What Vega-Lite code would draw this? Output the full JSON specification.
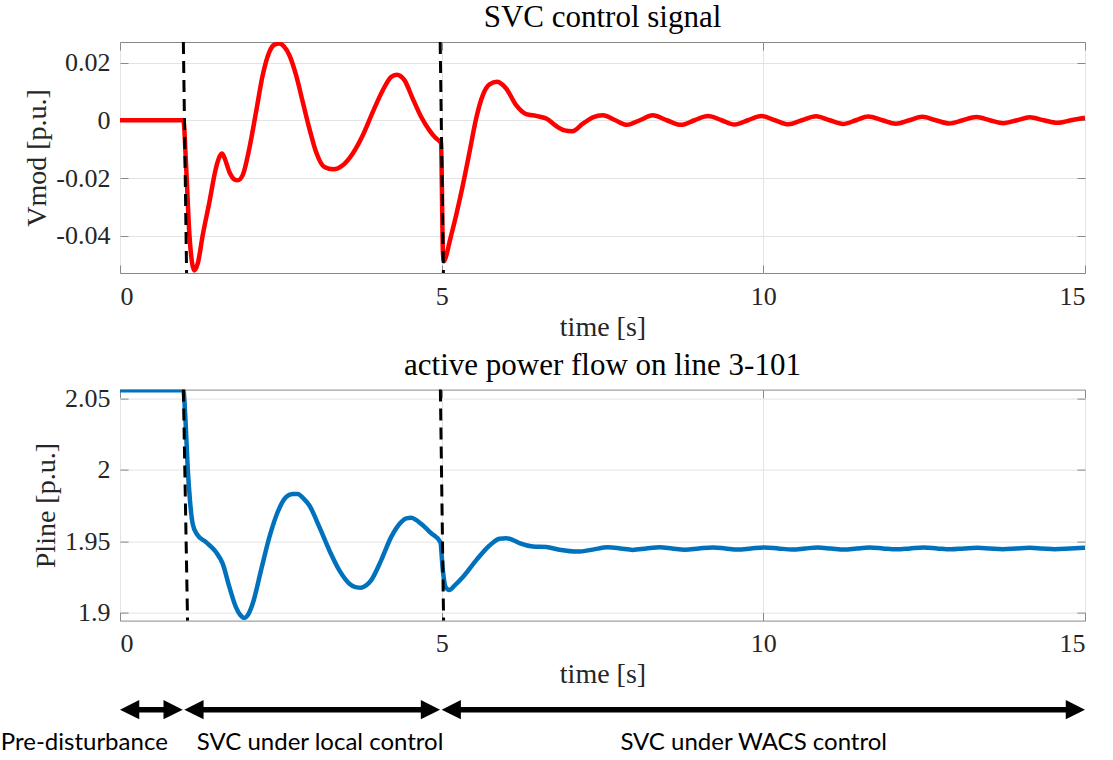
{
  "$schema": "https://vega.github.io/schema/vega-lite/v6.json",
  "padding": {"left": 0, "top": 1, "right": 5, "bottom": 0},
  "spacing": 6.6,
  "background": "white",
  "datasets": {
    "vmod": [
      {"t":0,"v":0},{"t":0.5,"v":0},{"t":0.985,"v":0},{"t":1.03,"v":-0.017},{"t":1.08,"v":-0.040},{"t":1.155,"v":-0.052},{"t":1.21,"v":-0.0495},{"t":1.285,"v":-0.0399},{"t":1.39,"v":-0.0283},{"t":1.49,"v":-0.0167},{"t":1.55,"v":-0.0125},{"t":1.586,"v":-0.0115},{"t":1.62,"v":-0.0128},{"t":1.70,"v":-0.0179},{"t":1.78,"v":-0.0205},{"t":1.83,"v":-0.0208},{"t":1.907,"v":-0.019},{"t":2.01,"v":-0.0098},{"t":2.115,"v":0.0029},{"t":2.218,"v":0.0156},{"t":2.322,"v":0.0237},{"t":2.40,"v":0.0262},{"t":2.477,"v":0.0266},{"t":2.55,"v":0.0255},{"t":2.633,"v":0.0225},{"t":2.737,"v":0.0156},{"t":2.84,"v":0.0064},{"t":2.944,"v":-0.0029},{"t":3.048,"v":-0.011},{"t":3.177,"v":-0.0162},{"t":3.317,"v":-0.017},{"t":3.462,"v":-0.0156},{"t":3.618,"v":-0.0115},{"t":3.774,"v":-0.0052},{"t":3.93,"v":0.0029},{"t":4.085,"v":0.0104},{"t":4.214,"v":0.015},{"t":4.302,"v":0.0158},{"t":4.421,"v":0.0139},{"t":4.55,"v":0.0075},{"t":4.68,"v":0.0012},{"t":4.81,"v":-0.0035},{"t":4.90,"v":-0.006},{"t":4.975,"v":-0.0075},{"t":4.99,"v":-0.008},{"t":5.02,"v":-0.046},{"t":5.035,"v":-0.0488},{"t":5.07,"v":-0.047},{"t":5.122,"v":-0.0422},{"t":5.225,"v":-0.0329},{"t":5.329,"v":-0.0225},{"t":5.433,"v":-0.011},{"t":5.536,"v":0.0006},{"t":5.64,"v":0.0087},{"t":5.744,"v":0.0124},{"t":5.863,"v":0.0133},{"t":5.93,"v":0.0126},{"t":6.003,"v":0.011},{"t":6.158,"v":0.0052},{"t":6.314,"v":0.0021},{"t":6.47,"v":0.0015},{"t":6.625,"v":0.0006},{"t":6.78,"v":-0.002},{"t":6.91,"v":-0.0035},{"t":7.03,"v":-0.0038},{"t":7.195,"v":-0.0012},{"t":7.35,"v":0.001},{"t":7.506,"v":0.0017},{"t":7.70,"v":0.0},{"t":7.88,"v":-0.0016},{"t":8.08,"v":0.0},{"t":8.28,"v":0.0017},{"t":8.50,"v":0.0},{"t":8.72,"v":-0.0016},{"t":8.93,"v":0.0},{"t":9.14,"v":0.0015},{"t":9.35,"v":0.0},{"t":9.55,"v":-0.0015},{"t":9.76,"v":0.0},{"t":9.97,"v":0.0015},{"t":10.18,"v":0.0},{"t":10.39,"v":-0.0014},{"t":10.60,"v":0.0},{"t":10.82,"v":0.0014},{"t":11.03,"v":0.0},{"t":11.24,"v":-0.0013},{"t":11.44,"v":0.0},{"t":11.63,"v":0.0013},{"t":11.85,"v":0.0},{"t":12.06,"v":-0.0012},{"t":12.27,"v":0.0},{"t":12.47,"v":0.0012},{"t":12.68,"v":0.0},{"t":12.89,"v":-0.0011},{"t":13.10,"v":0.0},{"t":13.31,"v":0.0011},{"t":13.52,"v":0.0},{"t":13.73,"v":-0.001},{"t":13.94,"v":0.0},{"t":14.14,"v":0.001},{"t":14.36,"v":0.0},{"t":14.57,"v":-0.0009},{"t":14.78,"v":0.0},{"t":15.0,"v":0.0009}
    ],
    "pline": [
      {"t":0,"p":2.0555},{"t":0.5,"p":2.0555},{"t":0.985,"p":2.0555},{"t":1.016,"p":2.0365},{"t":1.052,"p":2.0017},{"t":1.088,"p":1.9784},{"t":1.13,"p":1.9622},{"t":1.192,"p":1.9552},{"t":1.337,"p":1.9494},{"t":1.492,"p":1.9425},{"t":1.596,"p":1.9344},{"t":1.70,"p":1.9181},{"t":1.80,"p":1.9042},{"t":1.87,"p":1.8985},{"t":1.933,"p":1.8965},{"t":2.0,"p":1.8995},{"t":2.063,"p":1.9065},{"t":2.192,"p":1.9297},{"t":2.322,"p":1.9529},{"t":2.45,"p":1.9703},{"t":2.58,"p":1.9808},{"t":2.68,"p":1.983},{"t":2.763,"p":1.9831},{"t":2.85,"p":1.98},{"t":2.944,"p":1.975},{"t":3.1,"p":1.9599},{"t":3.255,"p":1.9436},{"t":3.41,"p":1.9297},{"t":3.566,"p":1.9204},{"t":3.66,"p":1.918},{"t":3.747,"p":1.9176},{"t":3.82,"p":1.919},{"t":3.903,"p":1.9227},{"t":4.059,"p":1.9367},{"t":4.214,"p":1.9529},{"t":4.37,"p":1.9634},{"t":4.45,"p":1.966},{"t":4.525,"p":1.9664},{"t":4.60,"p":1.965},{"t":4.68,"p":1.9622},{"t":4.836,"p":1.9557},{"t":4.98,"p":1.9494},{"t":5.018,"p":1.9297},{"t":5.06,"p":1.9181},{"t":5.12,"p":1.916},{"t":5.20,"p":1.919},{"t":5.33,"p":1.925},{"t":5.536,"p":1.9367},{"t":5.744,"p":1.9471},{"t":5.9,"p":1.9518},{"t":6.003,"p":1.9522},{"t":6.10,"p":1.951},{"t":6.21,"p":1.9487},{"t":6.418,"p":1.9464},{"t":6.625,"p":1.946},{"t":6.83,"p":1.9441},{"t":7.117,"p":1.9428},{"t":7.35,"p":1.9442},{"t":7.58,"p":1.9458},{"t":7.78,"p":1.945},{"t":7.97,"p":1.944},{"t":8.18,"p":1.945},{"t":8.39,"p":1.9458},{"t":8.58,"p":1.945},{"t":8.78,"p":1.9441},{"t":9.0,"p":1.945},{"t":9.22,"p":1.9457},{"t":9.41,"p":1.945},{"t":9.60,"p":1.9442},{"t":9.81,"p":1.945},{"t":10.02,"p":1.9457},{"t":10.23,"p":1.945},{"t":10.45,"p":1.9443},{"t":10.65,"p":1.945},{"t":10.84,"p":1.9456},{"t":11.05,"p":1.945},{"t":11.26,"p":1.9443},{"t":11.45,"p":1.945},{"t":11.65,"p":1.9456},{"t":11.86,"p":1.945},{"t":12.07,"p":1.9444},{"t":12.28,"p":1.945},{"t":12.49,"p":1.9456},{"t":12.70,"p":1.945},{"t":12.91,"p":1.9444},{"t":13.12,"p":1.945},{"t":13.33,"p":1.9455},{"t":13.52,"p":1.945},{"t":13.72,"p":1.9445},{"t":13.93,"p":1.945},{"t":14.14,"p":1.9455},{"t":14.33,"p":1.945},{"t":14.53,"p":1.9445},{"t":14.77,"p":1.945},{"t":15.0,"p":1.9455}
    ],
    "dashTop": [
      {"id":1,"t":0.985,"v":0.0271},{"id":1,"t":1.035,"v":-0.0529},
      {"id":2,"t":4.977,"v":0.0271},{"id":2,"t":5.027,"v":-0.0529}
    ],
    "dashBottom": [
      {"id":1,"t":0.985,"p":2.056},{"id":1,"t":1.05,"p":1.8946},
      {"id":2,"t":4.98,"p":2.056},{"id":2,"t":5.03,"p":1.8946}
    ],
    "phases": [
      {"label":"Pre-disturbance","start":0,"end":0.975,"mid":-0.555},
      {"label":"SVC under local control","start":1.0,"end":4.975,"mid":3.11},
      {"label":"SVC under WACS control","start":5.0,"end":15.0,"mid":9.85}
    ]
  },
  "vconcat": [
    {
      "width": 965,
      "height": 231,
      "title": {"text": "SVC control signal"},
      "layer": [
        {
          "data": {"name": "vmod"},
          "mark": {"type": "line", "color": "#ff0000", "strokeWidth": 4.5, "interpolate": "monotone", "strokeJoin": "round", "clip": true},
          "encoding": {
            "x": {"field": "t", "type": "quantitative", "scale": {"domain": [0, 15], "nice": false},
                  "axis": {"values": [0, 5, 10, 15], "title": "time [s]", "grid": true}},
            "y": {"field": "v", "type": "quantitative", "scale": {"domain": [-0.0529, 0.0271], "nice": false, "zero": false},
                  "axis": {"values": [-0.04, -0.02, 0, 0.02], "title": "Vmod [p.u.]", "grid": true,
                           "labelExpr": "datum.value == 0 ? '0' : (datum.value < 0 ? '-' + format(-datum.value, '.2f') : format(datum.value, '.2f'))"}}
          }
        },
        {
          "data": {"name": "dashTop"},
          "mark": {"type": "line", "color": "#000000", "strokeWidth": 3, "strokeDash": [12, 7]},
          "encoding": {
            "x": {"field": "t", "type": "quantitative", "axis": {"orient": "top", "values": [0, 5, 10, 15], "labels": false, "grid": false, "title": null}},
            "y": {"field": "v", "type": "quantitative", "axis": {"orient": "right", "values": [-0.04, -0.02, 0, 0.02], "labels": false, "grid": false, "title": null}},
            "detail": {"field": "id"}
          }
        }
      ],
      "resolve": {"axis": {"x": "independent", "y": "independent"}}
    },
    {
      "width": 965,
      "height": 231,
      "title": {"text": "active power flow on line 3-101"},
      "layer": [
        {
          "data": {"name": "pline"},
          "mark": {"type": "line", "color": "#0072bd", "strokeWidth": 4.5, "interpolate": "monotone", "strokeJoin": "round", "clip": true},
          "encoding": {
            "x": {"field": "t", "type": "quantitative", "scale": {"domain": [0, 15], "nice": false},
                  "axis": {"values": [0, 5, 10, 15], "title": "time [s]", "grid": true}},
            "y": {"field": "p", "type": "quantitative", "scale": {"domain": [1.8946, 2.056], "nice": false, "zero": false},
                  "axis": {"values": [1.9, 1.95, 2, 2.05], "format": ".2~f", "title": "Pline [p.u.]", "grid": true}}
          }
        },
        {
          "data": {"name": "dashBottom"},
          "mark": {"type": "line", "color": "#000000", "strokeWidth": 3, "strokeDash": [12, 7]},
          "encoding": {
            "x": {"field": "t", "type": "quantitative", "axis": {"orient": "top", "values": [0, 5, 10, 15], "labels": false, "grid": false, "title": null}},
            "y": {"field": "p", "type": "quantitative", "axis": {"orient": "right", "values": [1.9, 1.95, 2, 2.05], "labels": false, "grid": false, "title": null}},
            "detail": {"field": "id"}
          }
        }
      ],
      "resolve": {"axis": {"x": "independent", "y": "independent"}}
    },
    {
      "width": 965,
      "height": 46.5,
      "view": {"stroke": null},
      "data": {"name": "phases"},
      "layer": [
        {
          "mark": {"type": "rule", "color": "#000000", "strokeWidth": 5.5, "xOffset": 10, "x2Offset": -10},
          "encoding": {
            "x": {"field": "start", "type": "quantitative", "scale": {"domain": [0, 15], "nice": false}, "axis": null},
            "x2": {"field": "end"},
            "y": {"datum": 1, "type": "quantitative", "scale": {"domain": [0, 1.409], "nice": false, "zero": false}, "axis": null}
          }
        },
        {
          "mark": {"type": "point", "shape": "M0,0L2,-1L2,1Z", "size": 370, "filled": true, "color": "#000000", "opacity": 1, "strokeWidth": 0},
          "encoding": {
            "x": {"field": "start", "type": "quantitative"},
            "y": {"datum": 1, "type": "quantitative"}
          }
        },
        {
          "mark": {"type": "point", "shape": "M0,0L-2,-1L-2,1Z", "size": 370, "filled": true, "color": "#000000", "opacity": 1, "strokeWidth": 0},
          "encoding": {
            "x": {"field": "end", "type": "quantitative"},
            "y": {"datum": 1, "type": "quantitative"}
          }
        },
        {
          "mark": {"type": "text", "font": "Lato", "fontSize": 24, "color": "#000000", "align": "center", "baseline": "middle"},
          "encoding": {
            "x": {"field": "mid", "type": "quantitative"},
            "y": {"datum": 0, "type": "quantitative"},
            "text": {"field": "label"}
          }
        }
      ]
    }
  ],
  "config": {
    "view": {"stroke": "#888888", "strokeWidth": 1},
    "title": {"font": "Liberation Serif", "fontSize": 31, "fontWeight": "normal", "color": "#000000", "offset": 2, "anchor": "middle", "frame": "group"},
    "axis": {
      "labelFont": "Liberation Serif", "labelFontSize": 26, "labelColor": "#262626",
      "titleFont": "Liberation Serif", "titleFontSize": 28, "titleFontWeight": "normal", "titleColor": "#262626",
      "gridColor": "#e3e3e3", "gridWidth": 1, "domain": false,
      "tickColor": "#888888", "tickSize": -8, "tickWidth": 1, "labelPadding": 18, "titlePadding": 4
    }
  }
}
